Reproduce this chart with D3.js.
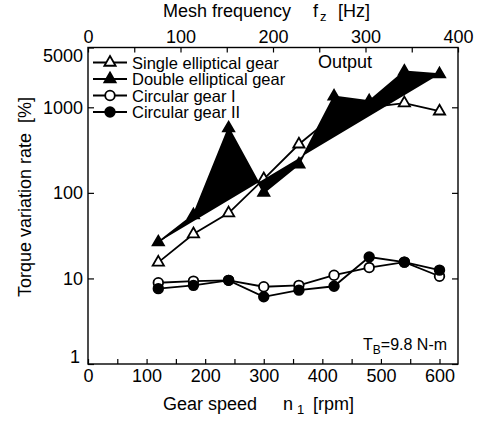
<!DOCTYPE html>
<html>
<head>
<meta charset="utf-8">
<script src="https://cdn.jsdelivr.net/npm/d3@7"></script>
<style>
  body { margin: 0; background: #fff; }
  svg text { font-family: Arial, "Liberation Sans", sans-serif; fill: #000; }
</style>
</head>
<body>
<svg class="torque" width="478" height="423"></svg>
<script>
// data
const speeds = [120, 180, 240, 300, 360, 420, 480, 540, 600];
const singleEllip = [15.4, 33, 58, 145, 370, 800, 1000, 1120, 900];
const doubleEllip = [26.5, 55, 570, 101, 216, 1340, 1180, 2620, 2440];
const circularI = [8.9, 9.3, 9.5, 8.0, 8.3, 10.9, 13.4, 15.5, 10.6];
const circularII = [7.6, 8.3, 9.5, 6.1, 7.3, 8.1, 17.8, 15.5, 12.5];

const speedTicks = [0, 50, 100, 150, 200, 250, 300, 350, 400, 450, 500, 550, 600];
const freqTicks = [0, 50, 100, 150, 200, 250, 300, 350, 400];
const rateTicks = [1, 10, 100, 1000, 5000];
const legendNames = ["Single elliptical gear", "Double elliptical gear", "Circular gear I", "Circular gear II"];

let svg = d3.select("svg.torque"),
    margin = {top: 47.5, bottom: 59, left: 88, right: 20},
    width = svg.attr("width") - margin.left - margin.right,
    height = svg.attr("height") - margin.top - margin.bottom;

let g = svg.append("g")
    .attr("transform", "translate(" + margin.left + "," + margin.top + ")");

// mesh frequency fz = n1 * 38 / 60, so 400 Hz sits at 631.6 rpm
let xScale = d3.scaleLinear().domain([0, 400 * 60 / 38]).range([0, width]);
let fScale = d3.scaleLinear().domain([0, 400]).range([0, width]);
let yScale = d3.scaleLog().domain([1, 5000]).range([height, 0]);

// axes, ticks pointing inward
let bottomAxis = g.append("g")
    .attr("transform", "translate(0," + height + ")")
    .call(d3.axisBottom(xScale).tickValues(speedTicks).tickSize(-5).tickPadding(5)
        .tickFormat(d => d % 100 === 0 ? d : ""));
let topAxis = g.append("g")
    .call(d3.axisTop(fScale).tickValues(freqTicks).tickSize(-5).tickPadding(5)
        .tickFormat(d => d % 100 === 0 ? d : ""));
let leftAxis = g.append("g")
    .call(d3.axisLeft(yScale).tickValues(rateTicks).tickSize(-6).tickPadding(5)
        .tickFormat(d3.format("d")));
let rightAxis = g.append("g")
    .attr("transform", "translate(" + width + ",0)")
    .call(d3.axisRight(yScale).tickValues(rateTicks.slice(0, 4)).tickSize(-6).tickFormat(""));

[bottomAxis, topAxis, leftAxis, rightAxis].forEach(a => {
    a.select(".domain").remove();
    a.selectAll("line").attr("stroke", "#000").attr("stroke-width", 1.2);
    a.selectAll("text").attr("font-size", "18px").attr("font-family", null);
});
// end labels nudged off the corners
leftAxis.selectAll("text").filter(d => d === 1).attr("dx", "-3").attr("dy", "-2");
leftAxis.selectAll("text").filter(d => d === 5000).attr("dy", "0.75em");

// frame
g.append("rect")
    .attr("width", width)
    .attr("height", height)
    .attr("fill", "none")
    .attr("stroke", "#000")
    .attr("stroke-width", 1.4);

let line = d3.line()
    .x((d, i) => xScale(speeds[i]))
    .y(d => yScale(d));

let triangle = d3.symbol().type(d3.symbolTriangle).size(55);

// Single elliptical gear
g.append("path")
    .datum(singleEllip)
    .attr("fill", "none")
    .attr("stroke", "#000")
    .attr("stroke-width", 1.8)
    .attr("d", line);
g.selectAll(".tri-open")
    .data(singleEllip)
    .join("path")
    .attr("class", "tri-open")
    .attr("transform", (d, i) => "translate(" + xScale(speeds[i]) + "," + yScale(d) + ")")
    .attr("d", triangle)
    .attr("fill", "#fff")
    .attr("stroke", "#000")
    .attr("stroke-width", 1.8);

// Double elliptical gear (path left with its default black fill)
g.append("path")
    .datum(doubleEllip)
    .attr("fill", "#000")
    .attr("stroke", "#000")
    .attr("stroke-width", 1.8)
    .attr("d", line);
g.selectAll(".tri-fill")
    .data(doubleEllip)
    .join("path")
    .attr("class", "tri-fill")
    .attr("transform", (d, i) => "translate(" + xScale(speeds[i]) + "," + yScale(d) + ")")
    .attr("d", triangle)
    .attr("fill", "#000")
    .attr("stroke", "#000")
    .attr("stroke-width", 1.8);

// Circular gear I
g.append("path")
    .datum(circularI)
    .attr("fill", "none")
    .attr("stroke", "#000")
    .attr("stroke-width", 1.8)
    .attr("d", line);
g.selectAll(".circ-open")
    .data(circularI)
    .join("circle")
    .attr("class", "circ-open")
    .attr("cx", (d, i) => xScale(speeds[i]))
    .attr("cy", d => yScale(d))
    .attr("r", 4.8)
    .attr("fill", "#fff")
    .attr("stroke", "#000")
    .attr("stroke-width", 1.8);

// Circular gear II
g.append("path")
    .datum(circularII)
    .attr("fill", "none")
    .attr("stroke", "#000")
    .attr("stroke-width", 1.8)
    .attr("d", line);
g.selectAll(".circ-fill")
    .data(circularII)
    .join("circle")
    .attr("class", "circ-fill")
    .attr("cx", (d, i) => xScale(speeds[i]))
    .attr("cy", d => yScale(d))
    .attr("r", 4.8)
    .attr("fill", "#000")
    .attr("stroke", "#000")
    .attr("stroke-width", 1.8);

// Legend
let legend = g.append("g").attr("transform", "translate(5,15)");
legendNames.forEach((name, i) => {
    let row = legend.append("g").attr("transform", "translate(0," + (i * 16.5) + ")");
    row.append("line")
        .attr("x1", 0).attr("x2", 34)
        .attr("stroke", "#000").attr("stroke-width", 1.8);
    if (i < 2) {
        row.append("path")
            .attr("transform", "translate(17,0)")
            .attr("d", triangle)
            .attr("fill", i === 0 ? "#fff" : "#000")
            .attr("stroke", "#000").attr("stroke-width", 1.8);
    } else {
        row.append("circle")
            .attr("cx", 17).attr("r", 4.8)
            .attr("fill", i === 2 ? "#fff" : "#000")
            .attr("stroke", "#000").attr("stroke-width", 1.8);
    }
    row.append("text")
        .attr("x", 39).attr("y", 6)
        .attr("font-size", "16.5px")
        .text(name);
});

g.append("text")
    .attr("x", 230).attr("y", 20)
    .attr("font-size", "18px")
    .text("Output");

// load note
let note = g.append("text")
    .attr("x", 275).attr("y", height - 14)
    .attr("font-size", "16px");
note.append("tspan").text("T");
note.append("tspan").attr("dy", 4).attr("font-size", "12px").text("B");
note.append("tspan").attr("dy", -4).text("=9.8 N-m");

// top title
let topTitle = svg.append("text").attr("y", 17).attr("font-size", "18px");
topTitle.append("tspan").attr("x", 163).text("Mesh frequency");
topTitle.append("tspan").attr("x", 313).text("f");
topTitle.append("tspan").attr("x", 320).attr("dy", 4).attr("font-size", "13px").text("z");
topTitle.append("tspan").attr("x", 338).attr("dy", -4).text("[Hz]");

// bottom title
let botTitle = svg.append("text").attr("y", 410).attr("font-size", "18px");
botTitle.append("tspan").attr("x", 163).text("Gear speed");
botTitle.append("tspan").attr("x", 283).text("n");
botTitle.append("tspan").attr("x", 297).attr("dy", 4).attr("font-size", "13px").text("1");
botTitle.append("tspan").attr("x", 313).attr("dy", -4).text("[rpm]");

// y title
let yTitle = svg.append("text")
    .attr("transform", "translate(31,297) rotate(-90)")
    .attr("font-size", "18px");
yTitle.append("tspan").attr("x", 0).text("Torque variation rate");
yTitle.append("tspan").attr("x", 174).text("[%]");
</script>
</body>
</html>
